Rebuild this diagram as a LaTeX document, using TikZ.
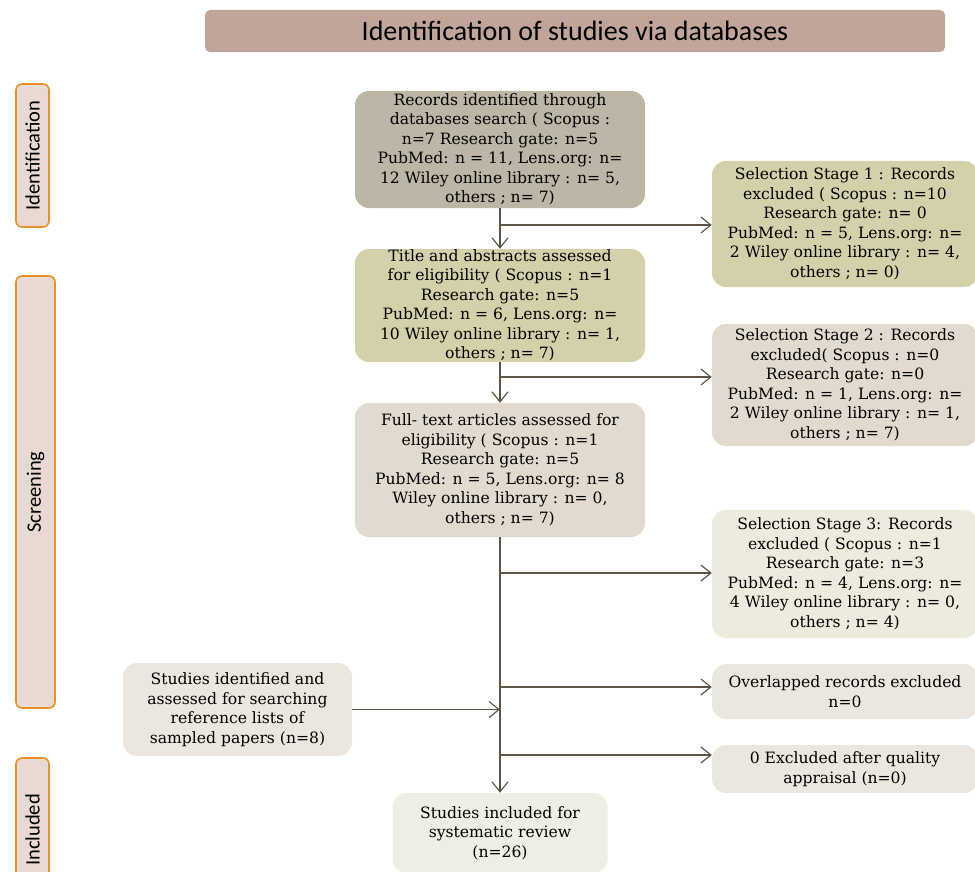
\documentclass[tikz,border=0pt]{standalone}
\usepackage{fontspec}
\setmainfont{DejaVu Serif}
\newfontfamily\headfont{Carlito}
\usetikzlibrary{arrows.meta}

\definecolor{linecol}{HTML}{5E5444}
\definecolor{titlefill}{HTML}{C1A59A}
\definecolor{phasefill}{HTML}{E8DAD3}
\definecolor{phaseline}{HTML}{E8902C}
\definecolor{taupe}{HTML}{BDB6A6}
\definecolor{khaki}{HTML}{D4D1AA}
\definecolor{sand}{HTML}{E2DACF}
\definecolor{paleolive}{HTML}{EDEBDE}
\definecolor{palesand}{HTML}{EBE7DF}
\definecolor{palegreen}{HTML}{EEEEE4}

\begin{document}
\begin{tikzpicture}[x=1pt, y=-1pt, every node/.append style={text=black},
	box/.style={rectangle, rounded corners=14pt, align=center, inner sep=0pt, font=\fontsize{15.6}{19.5}\selectfont},
	phase/.style={draw=phaseline, line width=1.6pt, fill=phasefill, rounded corners=6pt, rotate=90, inner sep=0pt, font=\headfont\fontsize{20.5}{22}\selectfont},
	arr/.style={draw=linecol, line width=1.2pt, -{Straight Barb[length=10pt, width=16pt]}}]
\useasboundingbox (0,0) rectangle (975,872);
\clip (0,0) rectangle (975,872);

	% heading and phases
	\node[fill=titlefill, rounded corners=5pt, minimum width=740pt, minimum height=42pt, font=\headfont\fontsize{28}{30}\selectfont] (title) at (575,31) {Identification of studies via databases};
	\node[phase, minimum width=143pt, minimum height=33pt] (idph) at (32.5,155.5) {Identification};
	\node[phase, minimum width=432pt, minimum height=39pt] (scph) at (35.5,492) {Screening};
	\node[phase, minimum width=144pt, minimum height=33pt] (inph) at (32.5,830) {Included};

	% main column
	\node[box, fill=taupe, minimum width=290pt, minimum height=117pt] (b1) at (500,149.5) {Records identified through\\databases search ( Scopus :\\n=7 Research gate: n=5\\PubMed: n = 11, Lens.org: n=\\12 Wiley online library : n= 5,\\others ; n= 7)};
	\node[box, fill=khaki, minimum width=290pt, minimum height=113pt] (b2) at (500,305.5) {Title and abstracts assessed\\for eligibility ( Scopus : n=1\\Research gate: n=5\\PubMed: n = 6, Lens.org: n=\\10 Wiley online library : n= 1,\\others ; n= 7)};
	\node[box, fill=sand, minimum width=290pt, minimum height=134pt] (b3) at (500,470) {Full- text articles assessed for\\eligibility ( Scopus : n=1\\Research gate: n=5\\PubMed: n = 5, Lens.org: n= 8\\Wiley online library : n= 0,\\others ; n= 7)};
	\node[box, fill=palegreen, minimum width=215pt, minimum height=80pt] (f) at (500,833) {Studies included for\\systematic review\\(n=26)};
	\node[box, fill=palesand, minimum width=229pt, minimum height=93pt] (l1) at (237.5,709.5) {Studies identified and\\assessed for searching\\reference lists of\\sampled papers (n=8)};

	% excluded column
	\node[box, fill=khaki, minimum width=266pt, minimum height=126pt] (r1) at (845,224) {Selection Stage 1 : Records\\excluded ( Scopus : n=10\\Research gate: n= 0\\PubMed: n = 5, Lens.org: n=\\2 Wiley online library : n= 4,\\others ; n= 0)};
	\node[box, fill=sand, minimum width=266pt, minimum height=122pt] (r2) at (845,385) {Selection Stage 2 : Records\\excluded( Scopus : n=0\\Research gate: n=0\\PubMed: n = 1, Lens.org: n=\\2 Wiley online library : n= 1,\\others ; n= 7)};
	\node[box, fill=paleolive, minimum width=266pt, minimum height=128pt] (r3) at (845,574) {Selection Stage 3: Records\\excluded ( Scopus : n=1\\Research gate: n=3\\PubMed: n = 4, Lens.org: n=\\4 Wiley online library : n= 0,\\others ; n= 4)};
	\node[box, fill=palesand, minimum width=266pt, minimum height=55pt] (r4) at (845,691.5) {Overlapped records excluded\\n=0};
	\node[box, fill=palesand, minimum width=266pt, minimum height=48pt] (r5) at (845,769) {0 Excluded after quality\\appraisal (n=0)};

	% connectors
	\draw[arr] (b1) -- (b2);
	\draw[arr] (b2) -- (b3);
	\draw[arr] (b3) -- (f);
	\draw[arr] (l1) -- (l1 -| b3.south);
	\foreach \n/\y in {1/225, 2/377, 3/573, 4/687, 5/755}
	{
		\draw[arr] (b1.south |- 0,\y) coordinate (s\n) -- (r\n.west |- s\n);
	}

\end{tikzpicture}
\end{document}
